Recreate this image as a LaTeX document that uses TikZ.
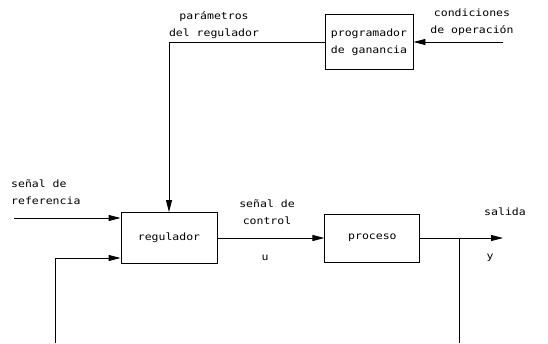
\documentclass[tikz,border=0pt]{standalone}
\usepackage{fontspec}
\newfontfamily\plotter[FakeStretch=1.15]{DejaVu Sans Mono}
\usepackage{tikz}
\usetikzlibrary{arrows.meta,positioning}

\begin{document}
\begin{tikzpicture}[
  x=1pt, y=-1pt,
  blk/.style={draw, line width=0.9pt, inner sep=0pt,
              text centered, align=center,
              font=\plotter\fontsize{10}{17}\selectfont},
  lbl/.style={inner sep=0pt, align=center,
              font=\plotter\fontsize{10}{17}\selectfont},
  arr/.style={-{Triangle[length=12pt,width=6pt]}, line width=0.9pt},
  wire/.style={line width=0.9pt}
]
  \useasboundingbox (0,0) rectangle (548,343);

  \node[blk, minimum width=96pt, minimum height=51pt] (reg) at (169,238) {regulador};
  \node[blk, minimum width=95pt, minimum height=48pt, right=107pt of reg] (proc) {proceso};
  \node[blk, minimum width=88pt, minimum height=55pt] (prog) at (369,42)
        {programador\\ de ganancia};

  \coordinate (cin)  at (503,42);
  \coordinate (rin)  at (14,218);
  \coordinate (yout) at (503,238);
  \coordinate (tap)  at (459,238);
  \coordinate (tapd) at (459,343);
  \coordinate (fbd)  at (55,343);
  \coordinate (fbu)  at (55,258);

  \draw[arr] (cin) -- (prog);
  \draw[arr] (prog.west) -| (reg.north);
  \draw[arr] (rin) -- (rin -| reg.west);
  \draw[arr] (reg) -- (proc);
  \draw[arr] (proc) -- (yout);
  \draw[wire] (tap) -- (tapd);
  \draw[arr] (fbd) -- (fbu) -- (fbu -| reg.west);

  \node[lbl] (par) at (214,25) {parámetros\\ del regulador};
  \node[lbl] (cond) at (472,22) {condiciones\\ de operación};
  \node[lbl, align=left, anchor=west] (ref) at (11,192) {señal de\\ referencia};
  \node[lbl] (ctl) at (267,212) {señal de\\ control};
  \node[lbl] (u) at (265,258) {u};
  \node[lbl] (sal) at (505,212) {salida};
  \node[lbl] (y) at (490,258) {y};
\end{tikzpicture}
\end{document}
